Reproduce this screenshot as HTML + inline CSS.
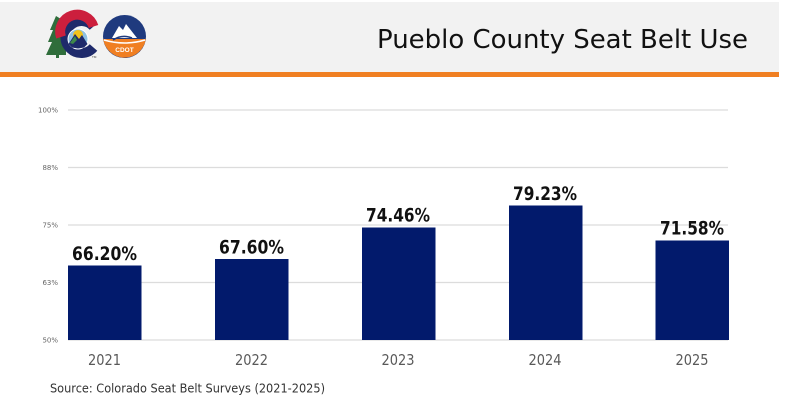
<!DOCTYPE html>
<html><head><meta charset="utf-8"><style>
html,body{margin:0;padding:0;background:#fff;}
svg{display:block;}
</style></head><body>
<svg width="787" height="420" viewBox="0 0 787 420" xmlns="http://www.w3.org/2000/svg">
<rect x="0" y="0" width="787" height="420" fill="#fff"/>
<!-- header -->
<rect x="0" y="2" width="779" height="70" fill="#f2f2f2"/>
<rect x="0" y="72" width="779" height="5" fill="#f07f22"/>
<!-- tree -->
<polygon points="56,16 50,30 53,30 48,42 52,42 46,55 56,55 56,58 59,58 59,55 66,55 66,22" fill="#2f6d3b"/>
<!-- C logo -->
<path d="M93.5,26.5 A16,16 0 1 0 93.5,47.5" fill="none" stroke="#1e2a6b" stroke-width="10"/>
<path d="M93.5,26.5 A16,16 0 0 0 61,37" fill="none" stroke="#cc1f3d" stroke-width="10"/>
<circle cx="78" cy="39" r="10.5" fill="#ffffff"/>
<circle cx="78" cy="39" r="9.5" fill="#8fc1e3"/>
<circle cx="78" cy="35" r="5" fill="#f2c21b"/>
<polygon points="68.5,44 75,34 79,39 82,35 87.5,44 84,47.5 78,48.5 72,47.5" fill="#1e2a6b"/>
<polygon points="70,43 75,36 77,40 73,44" fill="#3f8a4a"/>
<text x="92" y="58" font-family="Liberation Sans, sans-serif" font-size="3" fill="#333">TM</text>
<!-- CDOT logo -->
<circle cx="124.5" cy="36.5" r="21.5" fill="#1f3a7e"/>
<path d="M103.2,39 A21.5,21.5 0 0 0 145.8,39 Z" fill="#f07f22"/>
<path d="M104,40 Q124.5,46 145,40" fill="none" stroke="#fff" stroke-width="1.6"/>
<polygon points="112,38 119,26 123,30 126,24 137,38" fill="#ffffff"/>
<path d="M113,40 Q122,34 132,38" fill="none" stroke="#1f3a7e" stroke-width="1.5"/>
<text x="124.5" y="52" text-anchor="middle" font-family="Liberation Sans, sans-serif" font-weight="bold" font-size="6.5" fill="#fff">CDOT</text>
<!-- title -->
<text x="377" y="48" font-family="DejaVu Sans, Liberation Sans, sans-serif" font-size="26" fill="#111" textLength="371" lengthAdjust="spacingAndGlyphs">Pueblo County Seat Belt Use</text>
<!-- gridlines -->
<g stroke="#dcdcdc" stroke-width="1.3">
<line x1="68" y1="110" x2="728" y2="110"/>
<line x1="68" y1="167.5" x2="728" y2="167.5"/>
<line x1="68" y1="225" x2="728" y2="225"/>
<line x1="68" y1="282.5" x2="728" y2="282.5"/>
<line x1="68" y1="340" x2="728" y2="340"/>
</g>
<g font-family="DejaVu Sans, Liberation Sans, sans-serif" font-size="7" fill="#666" text-anchor="end">
<text x="58" y="112.5">100%</text>
<text x="58" y="170">88%</text>
<text x="58" y="227.5">75%</text>
<text x="58" y="285">63%</text>
<text x="58" y="342.5">50%</text>
</g>
<!-- bars -->
<g fill="#021a6c">
<rect x="68" y="265.5" width="73.5" height="74.5"/>
<rect x="215" y="259" width="73.5" height="81"/>
<rect x="362" y="227.5" width="73.5" height="112.5"/>
<rect x="509" y="205.5" width="73.5" height="134.5"/>
<rect x="655.5" y="240.5" width="73.5" height="99.5"/>
</g>
<!-- value labels -->
<g font-family="DejaVu Sans, Liberation Sans, sans-serif" font-weight="bold" font-size="18.5" fill="#111" text-anchor="middle">
<text x="104.5" y="260" textLength="65" lengthAdjust="spacingAndGlyphs">66.20%</text>
<text x="251.5" y="253.5" textLength="65" lengthAdjust="spacingAndGlyphs">67.60%</text>
<text x="398" y="221.7" textLength="64" lengthAdjust="spacingAndGlyphs">74.46%</text>
<text x="545" y="200" textLength="64" lengthAdjust="spacingAndGlyphs">79.23%</text>
<text x="692" y="234.5" textLength="64" lengthAdjust="spacingAndGlyphs">71.58%</text>
</g>
<!-- year labels -->
<g font-family="DejaVu Sans, Liberation Sans, sans-serif" font-size="15" fill="#595959" text-anchor="middle">
<text x="104.5" y="365" textLength="33" lengthAdjust="spacingAndGlyphs">2021</text>
<text x="251.5" y="365" textLength="33" lengthAdjust="spacingAndGlyphs">2022</text>
<text x="398" y="365" textLength="33" lengthAdjust="spacingAndGlyphs">2023</text>
<text x="545" y="365" textLength="33" lengthAdjust="spacingAndGlyphs">2024</text>
<text x="692" y="365" textLength="33" lengthAdjust="spacingAndGlyphs">2025</text>
</g>
<text x="50" y="392.5" font-family="DejaVu Sans, Liberation Sans, sans-serif" font-size="12.5" fill="#333" textLength="275" lengthAdjust="spacingAndGlyphs">Source: Colorado Seat Belt Surveys (2021-2025)</text>
</svg>
</body></html>
